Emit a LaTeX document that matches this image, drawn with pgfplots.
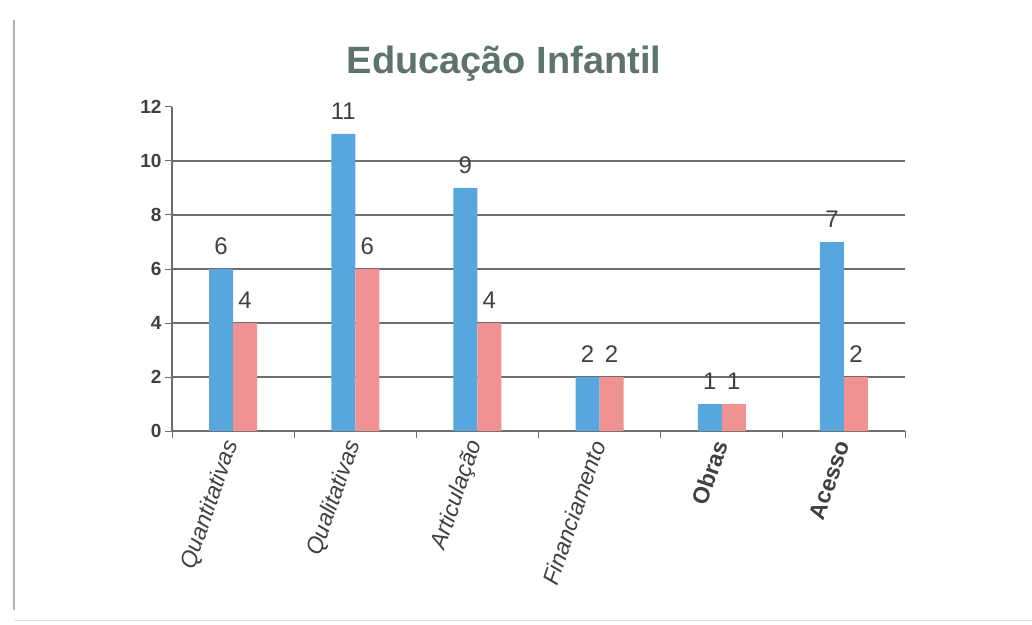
\documentclass[border=0pt]{standalone}
\usepackage{fontspec}
\setmainfont{Liberation Sans}
\usepackage{pgfplots}
\pgfplotsset{compat=1.18}
\definecolor{cblue}{RGB}{88,166,222}
\definecolor{cpink}{RGB}{240,146,146}
\definecolor{ctitle}{RGB}{94,116,107}
\definecolor{ctext}{RGB}{64,64,64}
\definecolor{cgrid}{RGB}{110,110,110}
\begin{document}
\begin{tikzpicture}[x=1pt,y=1pt]
\path[use as bounding box] (0,0) rectangle (1032,624);
\draw[gray!60, line width=1.2pt] (14,14) -- (14,604);
\draw[gray!25, line width=1pt] (14,4) -- (1032,4);
\node[font=\fontsize{38}{44}\selectfont\bfseries, text=ctitle] at (504,560) {Educação Infantil};
\begin{axis}[
  at={(172pt,193pt)}, anchor=south west,
  scale only axis, width=733pt, height=324pt,
  xmin=-0.5, xmax=5.5, ymin=0, ymax=12,
  ybar=0pt, bar width=24pt,
  axis x line*=bottom, axis y line*=left,
  axis line style={cgrid, line width=1.2pt},
  xtick={0,1,2,3,4,5},
  xticklabels={{\itshape Quantitativas},{\itshape Qualitativas},{\itshape Articulação},{\itshape Financiamento},{\bfseries Obras},{\bfseries Acesso}},
  major x tick style={draw=none},
  minor xtick={-0.5,0.5,1.5,2.5,3.5,4.5,5.5},
  minor x tick style={cgrid, line width=1pt},
  minor tick length=7pt,
  major tick length=7pt,
  tick align=outside,
  ytick={0,2,4,6,8,10,12},
  y tick style={cgrid, line width=1pt},
  extra y ticks={2,4,6,8,10},
  extra y tick labels={},
  extra y tick style={grid=major, major grid style={cgrid, line width=1.3pt}},
  /pgf/number format/assume math mode=true,
  y tick label style={font=\fontsize{19}{22}\selectfont\bfseries, text=ctext},
  x tick label style={rotate=71, anchor=east, font=\fontsize{23}{26}\selectfont, text=ctext},
  nodes near coords,
  every node near coord/.append style={font=\fontsize{24}{28}\selectfont, text=ctext, yshift=11pt},
  enlargelimits=false,
  clip=false,
]
\addplot[fill=cblue, draw=none] coordinates {(0,6) (1,11) (2,9) (3,2) (4,1) (5,7)};
\addplot[fill=cpink, draw=none] coordinates {(0,4) (1,6) (2,4) (3,2) (4,1) (5,2)};
\end{axis}
\end{tikzpicture}
\end{document}
